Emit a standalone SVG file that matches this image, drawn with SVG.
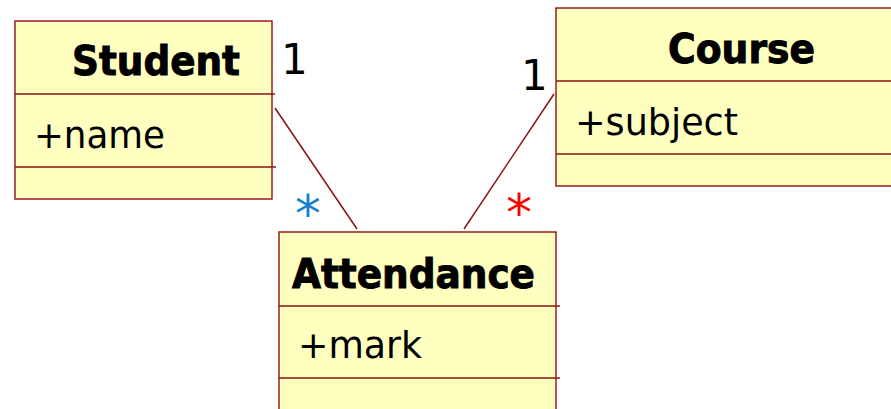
<svg xmlns="http://www.w3.org/2000/svg" width="891" height="409" viewBox="0 0 891 409">
  <style>
    .box { fill: #ffffc0; stroke: #9b1c1c; stroke-width: 1.5; }
    .sep { stroke: #8b1010; stroke-width: 1.5; }
    .assoc { stroke: #8b1010; stroke-width: 1.5; fill: none; }
    .title { font-family: "DejaVu Sans Condensed", "DejaVu Sans", sans-serif; font-weight: bold; font-size: 40px; fill: #000; stroke: #000; stroke-width: 0.9; }
    .attr { font-family: "DejaVu Sans Condensed", "DejaVu Sans", sans-serif; font-size: 38px; fill: #000; }
    .mult { font-family: "DejaVu Sans", sans-serif; font-size: 42px; fill: #000; }
    .star { font-family: "DejaVu Sans", sans-serif; font-size: 52px; text-anchor: middle; }
  </style>
  <rect width="891" height="409" fill="#ffffff"/>

  <g id="connectors">
    <line class="assoc" x1="275" y1="108" x2="357" y2="229"/>
    <line class="assoc" x1="554" y1="94" x2="464" y2="229"/>
    <text class="mult" x="281" y="74">1</text>
    <text class="mult" x="521" y="90">1</text>
    <text class="star" x="308" y="232" fill="#1a7fd4">*</text>
    <text class="star" x="519" y="231" fill="#ff0000">*</text>
  </g>

  <g id="student">
    <rect class="box" x="15" y="21" width="257" height="178"/>
    <line class="sep" x1="15" y1="94" x2="275" y2="94"/>
    <line class="sep" x1="15" y1="167" x2="276" y2="167"/>
    <text class="title" x="72" y="75" textLength="168" lengthAdjust="spacingAndGlyphs">Student</text>
    <text class="attr" x="34" y="148" textLength="131" lengthAdjust="spacingAndGlyphs">+name</text>
  </g>

  <g id="course">
    <rect class="box" x="556" y="8" width="340" height="178"/>
    <line class="sep" x1="556" y1="81" x2="891" y2="81"/>
    <line class="sep" x1="556" y1="154" x2="891" y2="154"/>
    <text class="title" x="668" y="63" textLength="147" lengthAdjust="spacingAndGlyphs">Course</text>
    <text class="attr" x="575" y="135" textLength="163" lengthAdjust="spacingAndGlyphs">+subject</text>
  </g>

  <g id="attendance">
    <rect class="box" x="279" y="232" width="277" height="190"/>
    <line class="sep" x1="279" y1="306" x2="560" y2="306"/>
    <line class="sep" x1="279" y1="378" x2="560" y2="378"/>
    <text class="title" x="292" y="288" textLength="243" lengthAdjust="spacingAndGlyphs">Attendance</text>
    <text class="attr" x="298" y="358" textLength="124" lengthAdjust="spacingAndGlyphs">+mark</text>
  </g>
</svg>
